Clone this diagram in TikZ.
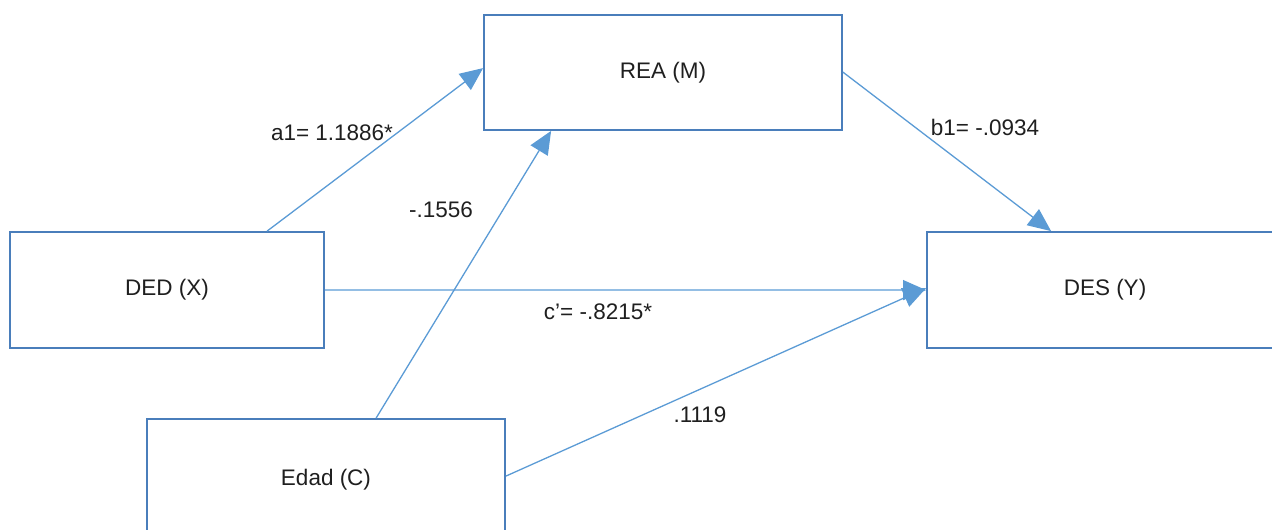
\documentclass[tikz,border=0pt]{standalone}
\usepackage{fontspec}
\setmainfont{Liberation Sans}
\usetikzlibrary{arrows.meta,calc}
\definecolor{boxline}{HTML}{4A7EBB}
\definecolor{arrowline}{HTML}{5B9BD5}
\tikzset{
  varbox/.style={draw=boxline, line width=1.8pt, fill=white, inner sep=0pt,
    font=\fontsize{22.5}{27}\selectfont, text=black!88},
  path arrow/.style={draw=arrowline, line width=1.3pt,
    -{Triangle[length=23pt,width=20pt]}},
  coef/.style={font=\fontsize{22.5}{27}\selectfont, text=black!88, inner sep=0pt}
}
\begin{document}
\begin{tikzpicture}[x=1pt,y=-1pt]
  \path[use as bounding box] (0,0) rectangle (1272,530);
  \clip (0,0) rectangle (1272,530);

  % variables
  \node[varbox, minimum width=358pt, minimum height=115pt] (rea) at (663,72.5) {REA (M)};
  \node[varbox, minimum width=314pt, minimum height=116pt] (ded) at (167,290) {DED (X)};
  \node[varbox, minimum width=356pt, minimum height=116pt] (des) at (1105,290) {DES (Y)};
  \node[varbox, minimum width=358pt, minimum height=122pt] (edad) at (326,480) {Edad (C)};

  % paths
  \draw[path arrow] ($(ded.north west)+(258,0)$) -- ($(rea.north west)+(0,54)$);
  \draw[path arrow] ($(edad.north west)+(230,0)$) -- ($(rea.south west)+(68,0)$);
  \draw[path arrow] ($(rea.north east)+(0,58)$) -- ($(des.north west)+(125,0)$);
  \draw[path arrow] (ded.east) -- ($(des.north west)+(0,59)$);
  \draw[path arrow] ($(edad.north east)+(0,58)$) -- ($(des.north west)+(0,57)$);

  % coefficients
  \node[coef] (la) at (332,133) {a1= 1.1886*};
  \node[coef] (lc) at (441,210) {-.1556};
  \node[coef] (lb) at (985,127) {b1= -.0934};
  \node[coef] (ld) at (598,312) {c’= -.8215*};
  \node[coef] (le) at (700,415) {.1119};
\end{tikzpicture}
\end{document}
